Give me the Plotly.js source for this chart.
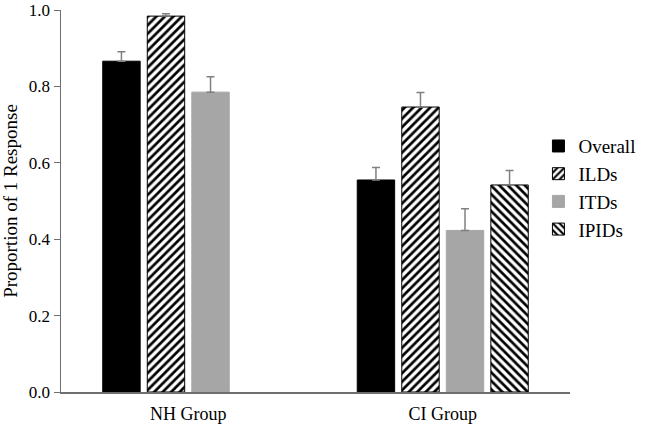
<!DOCTYPE html>
<html>
<head>
<meta charset="utf-8">
<script src="https://cdn.plot.ly/plotly-3.0.1.min.js"></script>
<style>html,body{margin:0;padding:0;background:#fff;}#chart{width:666px;height:428px;}</style>
</head>
<body>
<div id="chart"></div>
<script>
const groups = ["NH Group", "CI Group"];
const seriesNames = ["Overall", "ILDs", "ITDs", "IPIDs"];
const overall = [0.866, 0.555];
const ilds = [0.984, 0.746];
const itds = [0.785, 0.423];
const ipids = [null, 0.542];
const overallErr = [0.025, 0.033];
const ildsErr = [0.006, 0.038];
const itdsErr = [0.040, 0.057];
const ipidsErr = [0, 0.038];
const yTicks = [0, 0.2, 0.4, 0.6, 0.8, 1.0];
const yTickText = ["0.0", "0.2", "0.4", "0.6", "0.8", "1.0"];

const font = "Liberation Serif, Times New Roman, serif";
const errStyle = (arr) => ({type: "data", symmetric: false, array: arr, arrayminus: arr.map(() => 0), color: "#808080", thickness: 1.5, width: 4});

const traces = [
  {name: seriesNames[0], x: groups, y: overall, type: "bar", marker: {color: "#000000", line: {color: "#000000", width: 1}}, error_y: errStyle(overallErr)},
  {name: seriesNames[1], x: groups, y: ilds, type: "bar", marker: {color: "#ffffff", line: {color: "#000000", width: 1}, pattern: {shape: "/", fgcolor: "#000000", bgcolor: "#ffffff", size: 6, solidity: 0.45}}, error_y: errStyle(ildsErr)},
  {name: seriesNames[2], x: groups, y: itds, type: "bar", marker: {color: "#a6a6a6", line: {color: "#a6a6a6", width: 1}}, error_y: errStyle(itdsErr)},
  {name: seriesNames[3], x: groups, y: ipids, type: "bar", marker: {color: "#ffffff", line: {color: "#000000", width: 1}, pattern: {shape: "\\", fgcolor: "#000000", bgcolor: "#ffffff", size: 6, solidity: 0.45}}, error_y: errStyle(ipidsErr)}
];

const layout = {
  width: 666, height: 428,
  margin: {l: 61, r: 96, t: 10, b: 36},
  paper_bgcolor: "#ffffff", plot_bgcolor: "#ffffff",
  font: {family: font, color: "#000000", size: 17},
  barmode: "group", bargap: 0.30, bargroupgap: 0.16,
  xaxis: {type: "category", showline: true, linecolor: "#6f6f6f", linewidth: 1.5, ticks: "", showgrid: false, zeroline: false, tickfont: {family: font, size: 18}, ticklabelstandoff: 5, range: [-0.5, 1.5]},
  yaxis: {range: [0, 1.0], tickvals: yTicks, ticktext: yTickText, showline: true, linecolor: "#6f6f6f", linewidth: 1.5, ticks: "outside", ticklen: 6, tickcolor: "#6f6f6f", showgrid: false, zeroline: false, tickfont: {family: font, size: 17},
    title: {text: "Proportion of 1 Response", font: {family: font, size: 19}, standoff: 8}},
  showlegend: true,
  legend: {x: 0.938, xanchor: "left", y: 0.535, yanchor: "middle", font: {family: font, size: 19}, traceorder: "normal", bgcolor: "rgba(0,0,0,0)", itemwidth: 30}
};

Plotly.newPlot("chart", traces, layout, {displayModeBar: false, staticPlot: true});
</script>
</body>
</html>
